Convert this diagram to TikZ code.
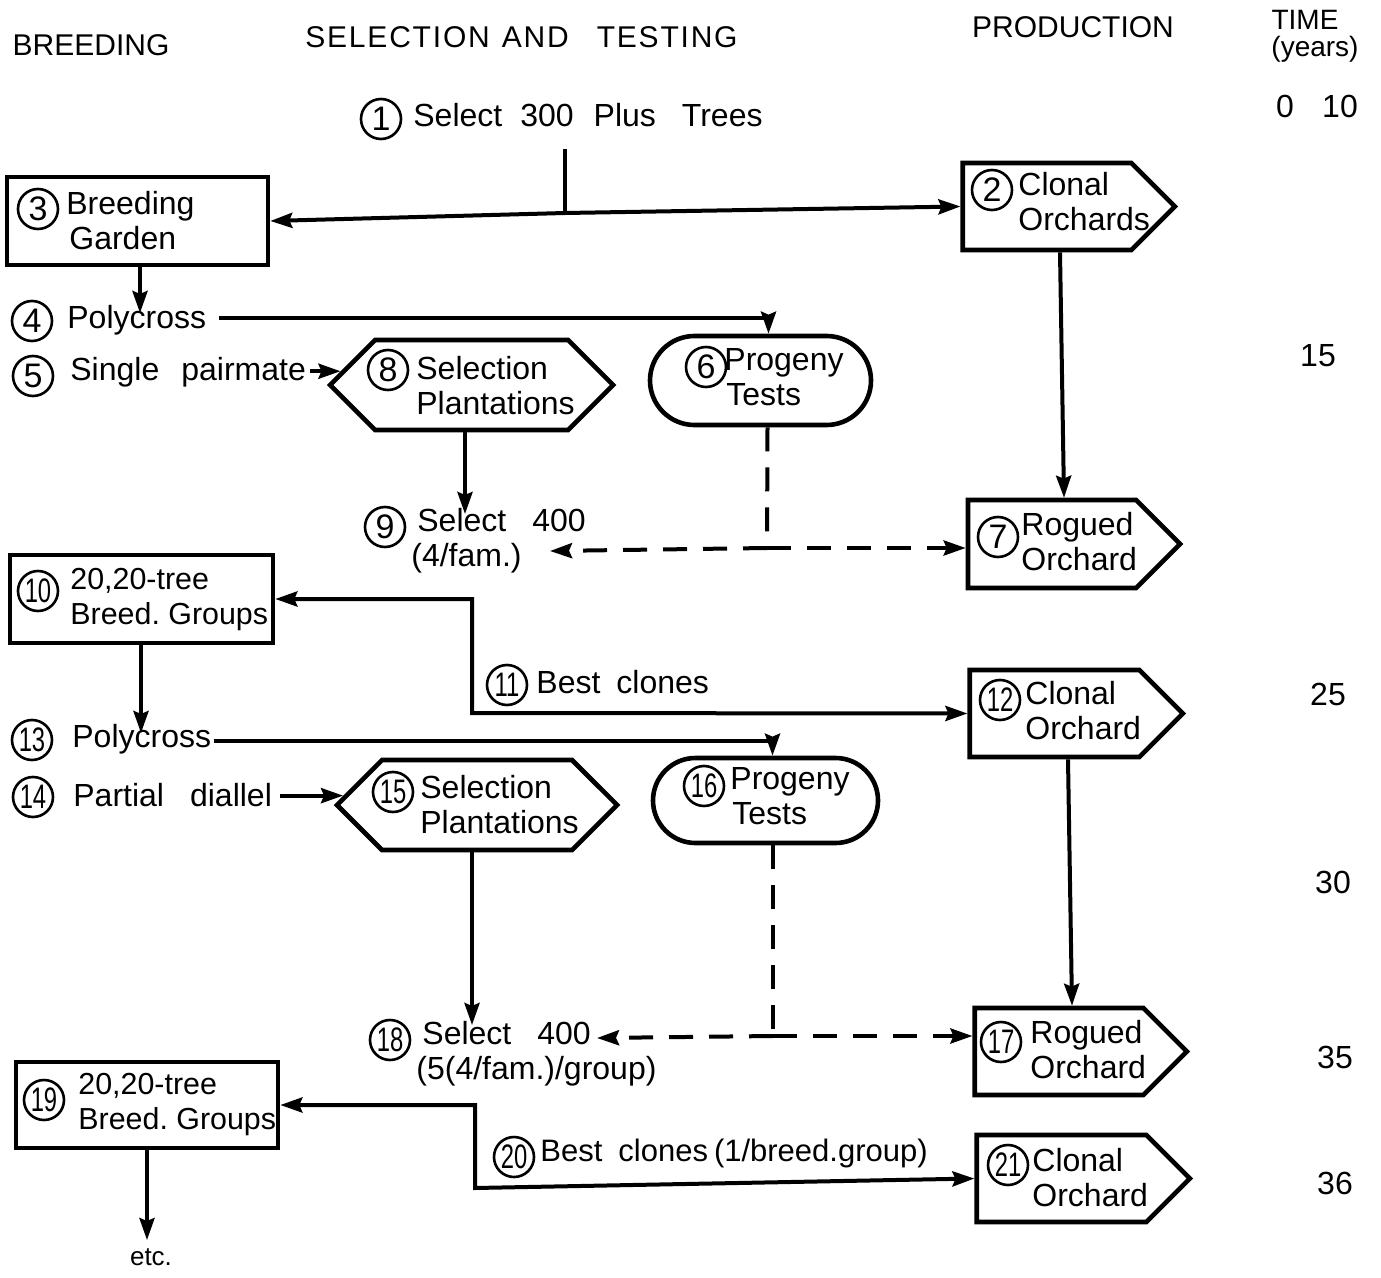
\documentclass[tikz,border=0pt]{standalone}
\usepackage{graphicx}
\usepackage{fontspec}
\setmainfont{Liberation Sans}
\newfontfamily\hdfont{Liberation Sans}[LetterSpace=6]
\newcommand{\twodig}[1]{\scalebox{0.7}[1]{#1}}
\usetikzlibrary{arrows.meta,shapes.symbols,shapes.misc,calc}
\frenchspacing

\begin{document}
\begin{tikzpicture}[x=0.5pt,y=-0.5pt,
  txt/.style={font=\fontsize{16}{17.5}\selectfont, inner sep=0pt, anchor=west, align=left},
  txtn/.style={txt, font=\fontsize{15.2}{17.5}\selectfont},
  hdr/.style={font=\fontsize{15}{16}\selectfont, inner sep=0pt},
  yr/.style={font=\fontsize{16}{17}\selectfont, inner sep=0pt},
  num/.style={draw, circle, line width=1.3pt, minimum size=20pt, inner sep=0pt,
              font=\fontsize{17}{17}\selectfont},
  boxr/.style={draw, line width=2.3pt, rectangle, inner sep=0pt},
  orch/.style={draw, line width=2.3pt, signal, signal to=east, inner sep=0pt},
  plant/.style={draw, line width=2.3pt, signal, signal to=east and west, inner sep=0pt},
  prog/.style={draw, line width=2.3pt, rounded rectangle, inner sep=0pt},
  ln/.style={line width=2pt},
  conn/.style={ln, -{Stealth[length=11pt,width=7.5pt,inset=1.5pt]}},
  conn2/.style={ln, {Stealth[length=11pt,width=7.5pt,inset=1.5pt]}-{Stealth[length=11pt,width=7.5pt,inset=1.5pt]}},
  dsh/.style={dash pattern=on 12pt off 8pt}
]
\useasboundingbox (0,0) rectangle (1381,1278);

% column headings
\node[hdr] (hBreed) at (91,45) {BREEDING};
\node[hdr, anchor=west] (hSel) at (305,37) {\hdfont SELECTION\hspace{6pt}AND\hspace{14pt}TESTING};
\node[hdr] (hProd) at (1073,27) {PRODUCTION};
\node[hdr, font=\fontsize{14}{15}\selectfont] (hTime) at (1305,20) {TIME};
\node[hdr, font=\fontsize{14}{15}\selectfont] (hYears) at (1315,49) {(years)};

% time scale
\node[yr] (y0) at (1285,106) {0};
\node[yr] (y10) at (1340,106) {10};
\node[yr] (y15) at (1318,356) {15};
\node[yr] (y25) at (1328,694) {25};
\node[yr] (y30) at (1333,882) {30};
\node[yr] (y35) at (1335,1057) {35};
\node[yr] (y36) at (1335,1183) {36};

% ---- first cycle ----
\node[num] (c1) at (381,119) {1};
\node[txt] (t1) at (413,115) {Select\hspace{9pt}300\hspace{10pt}Plus\hspace{13pt}Trees};

\node[boxr, minimum width=130.5pt, minimum height=44pt] (b3) at (137.5,221) {};
\node[num] (c3) at (38,209) {3};
\node[txt] (t3) at (66,221) {Breeding\\\hspace{1.5pt}Garden};

\node[orch, minimum width=106pt, minimum height=43.5pt] (b2) at (1047,206.5) {};
\node[num] (c2) at (992,190) {2};
\node[txt] (t2) at (1018,202) {Clonal\\Orchards};

\node[num] (c4) at (32,321) {4};
\node[txt] (t4) at (67,320) {Polycross};
\node[num] (c5) at (33,376) {5};
\node[txt] (t5) at (70,372) {Single\hspace{11pt}pairmate};

\node[plant, minimum width=141.5pt, minimum height=45pt] (h8) at (471.5,385) {};
\node[num] (c8) at (388,370) {8};
\node[txt] (t8) at (416,386) {Selection\\Plantations};

\node[prog, minimum width=110.5pt, minimum height=44.5pt] (p6) at (760.5,380.5) {};
\node[num] (c6) at (706,367) {6};
\node[txt] (t6) at (724,377) {Progeny\\\hspace{1pt}Tests};

\node[num] (c9) at (385,527) {9};
\node[txt] (t9) at (411,541) {\hspace{3pt}Select\hspace{13pt}400\\(4/fam.)};

\node[orch, minimum width=106pt, minimum height=44pt] (b7) at (1052,544) {};
\node[num] (c7) at (998,537) {7};
\node[txt] (t7) at (1021,542) {Rogued\\Orchard};

% ---- second cycle ----
\node[boxr, minimum width=131.5pt, minimum height=44pt] (b10) at (141.5,599) {};
\node[num] (c10) at (38,591) {\twodig{10}};
\node[txtn] (t10) at (70,600) {20,20-tree\\Breed. Groups};

\node[num] (c11) at (507,685) {\twodig{11}};
\node[txt] (t11) at (536,682) {Best\hspace{8pt}clones};

\node[orch, minimum width=106.5pt, minimum height=43.5pt] (b12) at (1054.5,713.5) {};
\node[num] (c12) at (1000,700) {\twodig{12}};
\node[txt] (t12) at (1025,711) {Clonal\\Orchard};

\node[num] (c13) at (32,740) {\twodig{13}};
\node[txt] (t13) at (72,739) {Polycross};
\node[num] (c14) at (33,797) {\twodig{14}};
\node[txt] (t14) at (73,795) {Partial\hspace{13pt}diallel};

\node[plant, minimum width=140pt, minimum height=45pt] (h15) at (477,805) {};
\node[num] (c15) at (393,792) {\twodig{15}};
\node[txt] (t15) at (420,805) {Selection\\Plantations};

\node[prog, minimum width=112.5pt, minimum height=42.5pt] (p16) at (765.5,800.5) {};
\node[num] (c16) at (704,786) {\twodig{16}};
\node[txt] (t16) at (730,796) {Progeny\\\hspace{1pt}Tests};

\node[num] (c18) at (390,1040) {\twodig{18}};
\node[txt] (t18) at (416,1054) {\hspace{3pt}Select\hspace{13pt}400\\(5(4/fam.)/group)};

\node[orch, minimum width=106pt, minimum height=43.5pt] (b17) at (1059,1051.5) {};
\node[num] (c17) at (1001,1042) {\twodig{17}};
\node[txt] (t17) at (1030,1050) {Rogued\\Orchard};

% ---- third cycle ----
\node[boxr, minimum width=131pt, minimum height=43pt] (b19) at (147,1105) {};
\node[num] (c19) at (44,1100) {\twodig{19}};
\node[txtn] (t19) at (78,1105) {20,20-tree\\Breed. Groups};

\node[num] (c20) at (514,1157) {\twodig{20}};
\node[txt, font=\fontsize{15.5}{17}\selectfont] (t20) at (540,1153) {Best\hspace{8pt}clones\hspace{3pt}(1/breed.group)};

\node[orch, minimum width=106.5pt, minimum height=43.5pt] (b21) at (1061.5,1178.5) {};
\node[num] (c21) at (1008,1165) {\twodig{21}};
\node[txt] (t21) at (1032,1178) {Clonal\\Orchard};

\node[font=\fontsize{13}{14}\selectfont, inner sep=0pt] (etc) at (151,1257) {etc.};

% ---- connectors ----
\coordinate (j1) at (565,213);
\draw[ln] (j1 |- t1.south) ++(0,22) -- (j1);
\draw[conn] (j1) -- (b3.east);
\draw[conn] (j1) -- (b2.west);

\coordinate (a4) at (140,313);
\draw[conn] (a4 |- b3.south) -- (a4);
\draw[conn] ([xshift=6pt,yshift=1pt]t4.east) -| ([xshift=4pt]p6.north);
\draw[conn] ([xshift=2pt]h8.174 -| t5.east) -- (h8.174);

\coordinate (a9) at (465,514);
\draw[conn] (a9 |- h8.south) -- (a9);

\coordinate (j6) at (767,548);
\coordinate (a9b) at (550,551);
\draw[ln, dsh] ([xshift=3.5pt]p6.south) -- (j6);
\draw[conn, dsh] (j6) -- (a9b);
\draw[conn, dsh] (j6) -- (b7.west |- j6);
\draw[ln] ([xshift=-7pt]j6) -- ([xshift=7pt]j6);

\draw[conn] ([xshift=6.5pt]b2.south) -- ([xshift=6pt]b7.north);

\coordinate (a13) at (141,733);
\draw[conn] (a13 |- b10.south) -- (a13);
\coordinate (k11) at (472,713);
\draw[conn2] (b10.east) -| (k11) -- (b12.west);

\draw[conn] ([xshift=1pt,yshift=-1pt]t13.east) -| ([xshift=3.5pt]p16.north);
\draw[conn] ([xshift=4pt]h15.176 -| t14.east) -- (h15.176);

\coordinate (a18) at (472,1025);
\draw[conn] (a18 |- h15.south) -- (a18);

\coordinate (j16) at (773,1036);
\coordinate (a18b) at (597,1038);
\draw[ln, dsh] ([xshift=3.75pt]p16.south) -- (j16);
\draw[conn, dsh] (j16) -- (a18b);
\draw[conn, dsh] (j16) -- (b17.west |- j16);
\draw[ln] ([xshift=-7pt]j16) -- ([xshift=7pt]j16);

\draw[conn] ([xshift=6.75pt]b12.south) -- ([xshift=6.5pt]b17.north);

\draw[conn] (b19.south) -- ([yshift=4pt]b19.south |- etc.north);
\coordinate (k20) at (475,1188);
\draw[conn2] (b19.east) -| (k20) -- (b21.west);

\end{tikzpicture}
\end{document}
